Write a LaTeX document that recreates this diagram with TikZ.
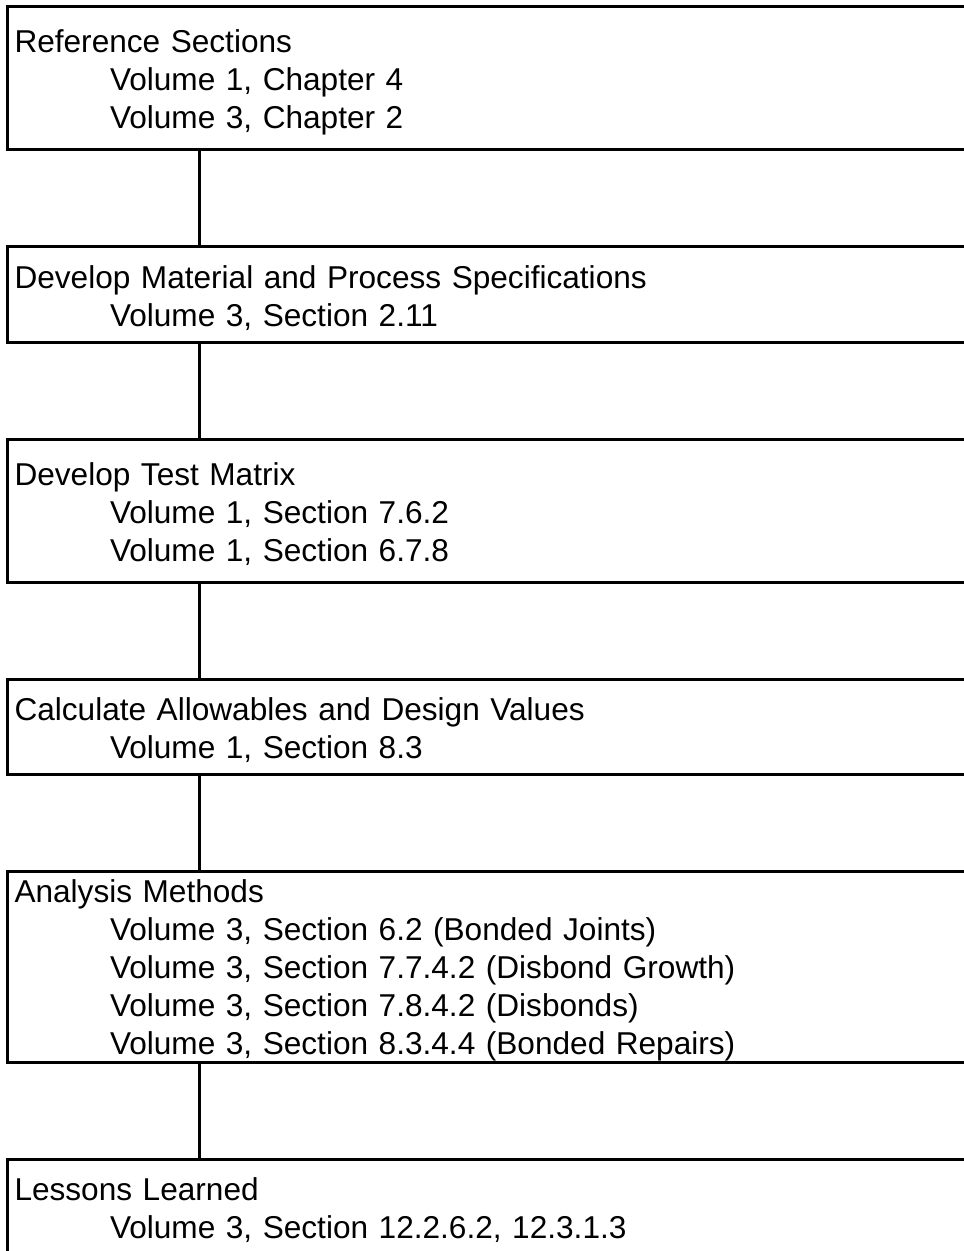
\documentclass[tikz,border=0pt]{standalone}
\usepackage{fontspec}
\setmainfont{Liberation Sans}
\usepackage{xcolor}
\usepackage{tikz}
\usetikzlibrary{positioning,calc}
\definecolor{ink}{HTML}{000000}
\newcommand{\refline}[1]{\hspace*{47.75pt}#1}
\tikzset{
  stepnode/.style={draw=ink, line width=1.5pt, rectangle, text width=514pt, align=left,
    inner xsep=3.5pt, inner ysep=0pt, text=ink, font=\fontsize{15.8}{19}\selectfont,
    execute at begin node=\rule{0pt}{15.5pt}, minimum height=#1},
  link/.style={draw=ink, line width=1.5pt}
}

\begin{document}
\begin{tikzpicture}
  \useasboundingbox (0,0) rectangle (481.5pt,-625.5pt);

  \node[stepnode=71.5pt, anchor=north west] (refsec) at (3pt,-2.75pt)
    {Reference Sections\\ \refline{Volume 1, Chapter 4}\\ \refline{Volume 3, Chapter 2}};
  \node[stepnode=47.5pt, below=47pt of refsec.south west, anchor=north west] (matspec)
    {Develop Material and Process Specifications\\ \refline{Volume 3, Section 2.11}};
  \node[stepnode=71.5pt, below=47pt of matspec.south west, anchor=north west] (testmat)
    {Develop Test Matrix\\ \refline{Volume 1, Section 7.6.2}\\ \refline{Volume 1, Section 6.7.8}};
  \node[stepnode=47.5pt, below=47pt of testmat.south west, anchor=north west] (allow)
    {Calculate Allowables and Design Values\\ \refline{Volume 1, Section 8.3}};
  \node[stepnode=95.5pt, below=47pt of allow.south west, anchor=north west] (analysis)
    {Analysis Methods\\ \refline{Volume 3, Section 6.2 (Bonded Joints)}\\
     \refline{Volume 3, Section 7.7.4.2 (Disbond Growth)}\\
     \refline{Volume 3, Section 7.8.4.2 (Disbonds)}\\
     \refline{Volume 3, Section 8.3.4.4 (Bonded Repairs)}};
  \node[stepnode=47.5pt, below=47pt of analysis.south west, anchor=north west] (lessons)
    {Lessons Learned\\ \refline{Volume 3, Section 12.2.6.2, 12.3.1.3}};

  \foreach \a/\b in {refsec/matspec, matspec/testmat, testmat/allow, allow/analysis, analysis/lessons}
    \draw[link] ([xshift=96.75pt]\a.south west) -- ([xshift=96.75pt]\b.north west);
\end{tikzpicture}
\end{document}
